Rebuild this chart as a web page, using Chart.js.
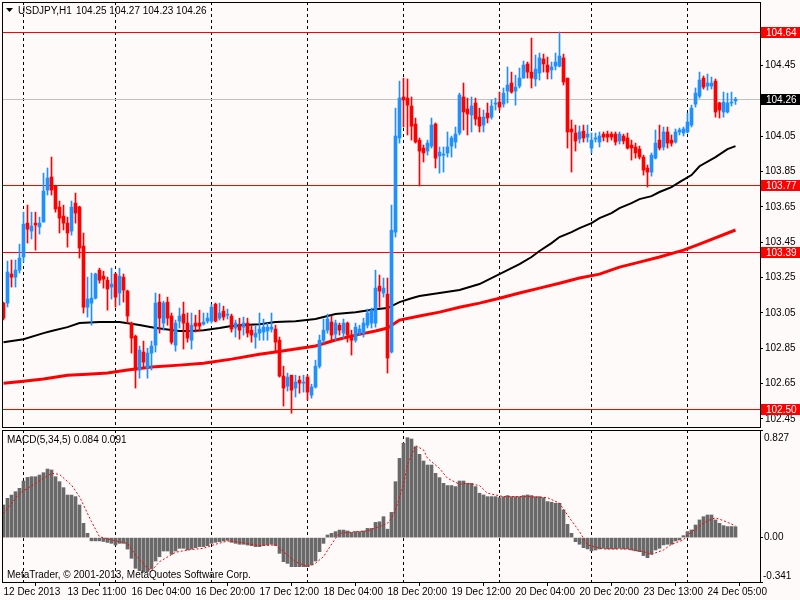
<!DOCTYPE html>
<html>
<head>
<meta charset="utf-8">
<script src="https://cdn.jsdelivr.net/npm/chart.js@4.4.0/dist/chart.umd.min.js"></script>
<style>
html,body{margin:0;padding:0;background:#fffafa;}
#wrap{position:relative;width:800px;height:600px;overflow:hidden;background:#fffafa;}
#c1{position:absolute;left:0;top:0;}
#c2{position:absolute;left:0;top:428px;}
</style>
</head>
<body>
<div id="wrap">
<canvas id="c1" width="800" height="428"></canvas>
<canvas id="c2" width="800" height="172"></canvas>
</div>
<script>
// ---------------- DATA ----------------
const symbolTitle = 'USDJPY,H1';
const titleOHLC = '104.25 104.27 104.23 104.26';
const macdTitle = 'MACD(5,34,5) 0.084 0.091';
const copyrightText = 'MetaTrader, \u00A9 2001-2013, MetaQuotes Software Corp.';

const opens = [103.105,103.105,103.27,103.252,103.292,103.366,103.558,103.513,103.558,103.536,
103.564,103.745,103.819,103.768,103.649,103.598,103.558,103.513,103.671,103.649,
103.428,103.082,103.105,103.133,103.292,103.258,103.235,103.196,103.27,103.162,
103.252,103.173,102.992,102.918,102.726,102.828,102.737,102.822,102.867,103.111,
102.992,103.111,103.032,102.867,103.003,103.043,102.992,102.895,102.992,102.992,
102.986,103.003,103.003,103.099,103.02,103.06,103.037,103.032,102.964,102.98,
102.969,102.992,102.952,102.913,102.935,102.941,102.947,102.958,102.958,102.895,
102.692,102.635,102.697,102.624,102.669,102.652,102.686,102.584,102.63,102.748,
102.895,102.952,102.998,102.93,102.98,102.935,102.992,102.924,102.895,102.935,
102.935,102.98,102.992,102.992,103.201,103.162,103.156,102.828,103.507,104.04,
104.272,104.266,104.221,104.119,104.028,103.983,103.966,103.994,104.119,103.938,
103.943,103.955,103.994,104.017,104.068,104.272,104.204,104.17,104.238,104.158,
104.113,104.181,104.158,104.232,104.243,104.232,104.306,104.351,104.306,104.334,
104.379,104.459,104.413,104.374,104.408,104.487,104.453,104.425,104.447,104.447,
104.493,104.379,104.091,104.068,104.034,104.079,104.045,103.983,104.034,104.017,
104.062,104.062,104.062,104.062,104.023,104.051,104.04,104.0,103.989,103.977,
103.932,103.87,103.847,103.926,104.028,103.989,104.074,104.028,104.017,104.074,
104.068,104.074,104.113,104.232,104.277,104.379,104.334,104.334,104.362,104.238,
104.187,104.187,104.238,104.25];

const highs = [103.11,103.343,103.349,103.349,103.439,103.62,103.66,103.62,103.62,103.592,
103.841,103.87,103.932,103.773,103.683,103.66,103.592,103.683,103.728,103.654,
103.502,103.252,103.275,103.275,103.303,103.286,103.252,103.303,103.275,103.303,
103.27,103.179,102.998,102.924,102.862,102.89,102.85,102.89,103.162,103.156,
103.116,103.139,103.049,103.009,103.077,103.111,103.049,103.049,103.037,103.065,
103.049,103.049,103.099,103.105,103.105,103.088,103.071,103.043,103.009,103.02,
103.026,103.02,102.98,102.975,103.049,103.015,102.992,103.049,102.98,102.913,
102.748,102.709,102.697,102.697,102.692,102.697,102.697,102.646,102.782,102.924,
103.015,103.043,103.032,103.009,102.992,103.015,102.998,102.952,102.992,102.98,
103.02,103.071,103.077,103.292,103.264,103.247,103.247,103.66,104.209,104.362,
104.379,104.374,104.272,104.153,104.04,104.0,104.028,104.153,104.125,103.989,
103.989,104.074,104.051,104.102,104.294,104.351,104.266,104.272,104.266,104.209,
104.198,104.238,104.255,104.266,104.3,104.323,104.442,104.413,104.396,104.436,
104.476,104.47,104.606,104.51,104.521,104.515,104.498,104.47,104.521,104.64,
104.515,104.379,104.142,104.113,104.108,104.113,104.113,104.068,104.068,104.074,
104.074,104.079,104.074,104.074,104.074,104.062,104.068,104.028,104.011,103.994,
103.943,103.887,103.955,104.085,104.113,104.102,104.102,104.057,104.091,104.096,
104.102,104.181,104.226,104.323,104.413,104.391,104.402,104.385,104.374,104.243,
104.3,104.294,104.3,104.27];

const lows = [103.01,103.083,103.196,103.196,103.275,103.337,103.445,103.468,103.405,103.496,
103.564,103.717,103.717,103.62,103.502,103.519,103.422,103.49,103.558,103.36,
103.049,103.026,102.98,103.128,103.218,103.19,103.065,103.128,103.082,103.094,
103.111,102.992,102.822,102.624,102.68,102.737,102.68,102.726,102.828,102.935,
102.952,102.98,102.873,102.833,102.964,102.845,102.884,102.845,102.941,102.947,
102.98,102.992,102.992,102.998,103.009,103.009,103.015,102.941,102.913,102.901,
102.924,102.913,102.884,102.85,102.895,102.895,102.895,102.941,102.828,102.686,
102.522,102.607,102.482,102.573,102.595,102.601,102.556,102.567,102.624,102.737,
102.879,102.935,102.895,102.895,102.924,102.907,102.884,102.811,102.884,102.924,
102.913,102.964,102.964,102.969,103.082,103.139,102.709,102.822,103.479,104.011,
104.102,104.057,104.028,104.011,103.768,103.904,103.943,103.983,103.87,103.841,
103.847,103.932,103.932,103.983,104.057,104.085,104.057,104.074,104.113,104.074,
104.074,104.125,104.147,104.198,104.198,104.215,104.238,104.294,104.226,104.323,
104.379,104.379,104.323,104.334,104.368,104.413,104.374,104.374,104.425,104.442,
104.34,103.983,103.847,103.966,104.011,104.017,104.017,103.955,104.017,103.989,
104.023,104.017,104.028,104.0,104.006,104.006,103.977,103.915,103.926,103.921,
103.83,103.762,103.824,103.921,103.972,103.972,103.983,103.994,104.011,104.057,
104.051,104.068,104.102,104.215,104.266,104.317,104.311,104.317,104.158,104.153,
104.158,104.181,104.221,104.23];

const closes = [103.02,103.281,103.252,103.292,103.36,103.552,103.524,103.541,103.547,103.558,
103.739,103.813,103.745,103.638,103.586,103.558,103.502,103.649,103.615,103.417,
103.082,103.128,103.133,103.27,103.235,103.241,103.185,103.213,103.139,103.258,
103.179,103.032,102.907,102.726,102.839,102.771,102.822,102.862,103.105,103.02,
103.105,103.02,102.884,102.992,103.032,102.992,102.907,102.98,102.975,102.975,
102.998,103.02,103.082,103.003,103.049,103.026,103.043,102.958,102.992,102.952,
102.992,102.935,102.924,102.935,102.958,102.969,102.969,102.969,102.884,102.692,
102.624,102.686,102.612,102.658,102.652,102.658,102.601,102.63,102.748,102.895,
102.952,103.015,102.924,102.992,102.952,102.992,102.924,102.895,102.969,102.958,
102.992,103.049,103.065,103.19,103.173,103.19,102.794,103.518,104.051,104.266,
104.255,104.226,104.107,104.017,103.966,103.955,104.011,104.113,103.926,103.96,
103.949,103.989,104.04,104.062,104.283,104.187,104.176,104.221,104.147,104.107,
104.158,104.153,104.221,104.238,104.215,104.294,104.34,104.3,104.328,104.379,
104.453,104.413,104.379,104.43,104.493,104.459,104.413,104.442,104.47,104.504,
104.357,104.074,104.074,104.023,104.074,104.04,104.062,104.028,104.04,104.051,
104.045,104.045,104.045,104.017,104.062,104.023,103.983,103.983,103.955,103.932,
103.858,103.847,103.943,104.011,103.983,104.074,104.011,104.011,104.074,104.085,
104.091,104.13,104.209,104.294,104.368,104.328,104.351,104.351,104.187,104.198,
104.243,104.238,104.243,104.26];

// moving averages: bars where the line was read, and the price read there
const blackMaBars = [0,5,10,12,16,19,24,29,34,37,40,44,47,50,54,57,60,64,68,73,78,83,88,93,96,99,102,104,109,114,119,124,129,132,134,137,139,142,144,147,149,152,154,157,159,162,164,167,169,172,174,178,181,183];
const blackMaValues = [102.884,102.901,102.935,102.947,102.969,102.992,102.998,102.998,102.981,102.969,102.958,102.947,102.947,102.952,102.964,102.975,102.981,102.986,102.998,103.003,103.015,103.043,103.054,103.071,103.077,103.111,103.133,103.145,103.162,103.179,103.213,103.269,103.326,103.366,103.4,103.445,103.479,103.507,103.53,103.558,103.586,103.615,103.643,103.671,103.694,103.711,103.734,103.762,103.79,103.83,103.88,103.932,103.977,103.994];
const redMaBars = [0,5,10,16,21,26,31,37,44,50,57,64,68,73,78,83,88,93,96,99,104,109,114,119,124,129,134,139,144,149,154,159,164,170,174,183];
const redMaValues = [102.652,102.663,102.675,102.697,102.703,102.709,102.726,102.743,102.754,102.765,102.788,102.816,102.828,102.845,102.862,102.896,102.924,102.947,102.964,103.009,103.032,103.054,103.082,103.105,103.133,103.162,103.19,103.218,103.247,103.269,103.309,103.337,103.366,103.405,103.439,103.519];

// MACD histogram (one value per bar) and signal line (read points)
const macdHist = [0.251,0.302,0.327,0.353,0.379,0.435,0.463,0.468,0.468,0.481,
0.499,0.527,0.52,0.468,0.43,0.384,0.327,0.327,0.315,0.251,
0.11,0.033,-0.025,-0.025,-0.025,-0.03,-0.037,-0.044,-0.057,-0.044,
-0.044,-0.088,-0.159,-0.236,-0.254,-0.262,-0.262,-0.241,-0.18,-0.147,
-0.103,-0.103,-0.128,-0.103,-0.082,-0.082,-0.095,-0.088,-0.077,-0.069,
-0.069,-0.062,-0.044,-0.036,-0.031,-0.026,-0.021,-0.036,-0.044,-0.051,
-0.051,-0.057,-0.062,-0.069,-0.069,-0.062,-0.057,-0.051,-0.062,-0.121,
-0.185,-0.198,-0.223,-0.223,-0.223,-0.223,-0.223,-0.21,-0.18,-0.108,
-0.044,0.02,0.033,0.046,0.058,0.058,0.051,0.04,0.046,0.046,
0.051,0.071,0.071,0.117,0.122,0.161,0.065,0.194,0.43,0.609,
0.725,0.768,0.758,0.699,0.64,0.589,0.558,0.558,0.494,0.461,
0.417,0.4,0.4,0.392,0.435,0.435,0.417,0.417,0.392,0.341,
0.328,0.315,0.315,0.315,0.307,0.315,0.323,0.315,0.315,0.315,
0.323,0.328,0.323,0.315,0.315,0.307,0.277,0.272,0.264,0.264,
0.213,0.102,0.033,-0.031,-0.051,-0.077,-0.087,-0.102,-0.095,-0.087,
-0.082,-0.087,-0.087,-0.087,-0.082,-0.087,-0.087,-0.095,-0.102,-0.108,
-0.138,-0.154,-0.128,-0.095,-0.082,-0.056,-0.051,-0.051,-0.026,-0.018,
0.015,0.046,0.059,0.097,0.136,0.161,0.174,0.174,0.136,0.11,
0.092,0.085,0.085,0.084];
const signalBars = [0,4,8,12,14,17,19,22,24,27,31,33,36,37,39,43,46,50,53,56,59,64,68,70,73,76,78,80,83,84,88,91,94,96,97,98,100,101,103,105,106,109,111,114,116,119,121,125,131,136,139,141,144,146,150,156,160,162,165,167,170,171,174,176,178,180,183];
const signalValues = [0.186,0.34,0.417,0.494,0.486,0.404,0.315,0.122,0.007,-0.018,-0.044,-0.133,-0.236,-0.255,-0.185,-0.113,-0.095,-0.082,-0.051,-0.026,-0.036,-0.062,-0.056,-0.108,-0.185,-0.223,-0.197,-0.146,-0.005,0.033,0.046,0.051,0.085,0.11,0.15,0.213,0.404,0.56,0.707,0.674,0.61,0.532,0.456,0.41,0.417,0.4,0.341,0.315,0.315,0.307,0.264,0.174,0.046,-0.056,-0.087,-0.087,-0.108,-0.128,-0.095,-0.051,-0.018,0.02,0.09,0.13,0.152,0.13,0.091];

// axes / annotations
const priceTicks = [102.45,102.65,102.85,103.05,103.25,103.45,103.65,103.85,104.05,104.25,104.45];
const levelLines = [104.64, 103.77, 103.39, 102.50];
const bidPrice = 104.26;
const macdTickValues = [0.827, 0, -0.341];
const macdTickLabels = ['0.827', '0.00', '-0.341'];
const timeTickBars = [0,16,32,48,64,80,96,112,128,144,160,176];
const timeTickLabels = ['12 Dec 2013','13 Dec 11:00','16 Dec 04:00','16 Dec 20:00','17 Dec 12:00','18 Dec 04:00','18 Dec 20:00','19 Dec 12:00','20 Dec 04:00','20 Dec 20:00','23 Dec 13:00','24 Dec 05:00'];
const daySeparatorBars = [5,28,52,76,100,124,147,171];

// visible ranges
const PRICE_MIN = 102.4037, PRICE_MAX = 104.8099;
const MACD_MIN = -0.341, MACD_MAX = 0.827;
const BAR_MIN = -0.375, BAR_MAX = 189.125;

// ---------------- STYLE ----------------
const UP = '#1e90ff', DOWN = '#ff0000';
const FONT_FAMILY = '"Liberation Sans", Arial, sans-serif';
const FONT = '10px ' + FONT_FAMILY;

const barIdx = opens.map((_, i) => i);
const candleColor = ctx => (closes[ctx.dataIndex] >= opens[ctx.dataIndex] ? UP : DOWN);

function noPad(s) { s.paddingTop = 0; s.paddingBottom = 0; s.paddingLeft = 0; s.paddingRight = 0; }

function drawSeparators(chart) {
  const {ctx, chartArea: a, scales: {x}} = chart;
  ctx.save();
  ctx.strokeStyle = '#000';
  ctx.lineWidth = 1;
  ctx.setLineDash([3, 3]);
  daySeparatorBars.forEach(b => {
    const px = Math.floor(x.getPixelForValue(b)) + 0.5;
    ctx.beginPath();
    ctx.moveTo(px, a.top);
    ctx.lineTo(px, a.bottom);
    ctx.stroke();
  });
  ctx.restore();
}

function drawFrame(chart) {
  const {ctx, chartArea: a} = chart;
  ctx.save();
  ctx.strokeStyle = '#000';
  ctx.lineWidth = 1;
  ctx.setLineDash([]);
  const l = Math.floor(a.left) + 0.5, r = Math.floor(a.right) + 0.5;
  const t = Math.floor(a.top) + 0.5, b = Math.floor(a.bottom) + 0.5;
  ctx.strokeRect(l, t, r - l, b - t);
  ctx.restore();
}

const mainPlugin = {
  id: 'mt4main',
  beforeDatasetsDraw(chart) {
    const {ctx, chartArea: a, scales: {y}} = chart;
    drawSeparators(chart);
    ctx.save();
    ctx.lineWidth = 1;
    ctx.strokeStyle = '#c0c0c0';
    let py = Math.floor(y.getPixelForValue(bidPrice)) + 0.5;
    ctx.beginPath(); ctx.moveTo(a.left, py); ctx.lineTo(a.right, py); ctx.stroke();
    ctx.strokeStyle = '#ff0000';
    levelLines.forEach(v => {
      const p = Math.floor(y.getPixelForValue(v)) + 0.5;
      ctx.beginPath(); ctx.moveTo(a.left, p); ctx.lineTo(a.right, p); ctx.stroke();
    });
    ctx.restore();
  },
  afterDraw(chart) {
    const {ctx, chartArea: a, scales: {y}} = chart;
    drawFrame(chart);
    ctx.save();
    ctx.font = FONT;
    ctx.textBaseline = 'middle';
    ctx.textAlign = 'left';
    const boxX = Math.floor(a.right) + 1;
    const boxW = chart.width - boxX;
    const drawBox = (v, bg) => {
      const p = Math.floor(y.getPixelForValue(v));
      ctx.fillStyle = bg;
      ctx.fillRect(boxX, p - 5, boxW, 11);
      ctx.fillStyle = '#ffffff';
      ctx.fillText(v.toFixed(2), boxX + 5, p + 1);
    };
    levelLines.forEach(v => drawBox(v, '#ff0000'));
    drawBox(bidPrice, '#000000');
    // header
    ctx.fillStyle = '#000';
    ctx.beginPath();
    ctx.moveTo(6, 8); ctx.lineTo(13, 8); ctx.lineTo(9.5, 12); ctx.closePath(); ctx.fill();
    ctx.fillText(symbolTitle, 18, 11);
    ctx.fillText(titleOHLC, 76, 11);
    ctx.restore();
  }
};

const macdPlugin = {
  id: 'mt4macd',
  beforeDatasetsDraw(chart) { drawSeparators(chart); },
  afterDraw(chart) {
    const {ctx, chartArea: a, scales: {y}} = chart;
    drawFrame(chart);
    ctx.save();
    ctx.font = FONT;
    ctx.textBaseline = 'middle';
    ctx.textAlign = 'left';
    ctx.fillStyle = '#000';
    ctx.fillText(macdTitle, 7, a.top + 10);
    ctx.fillText(copyrightText, 7, a.bottom - 7);
    macdTickValues.forEach((v, i) => {
      let p = y.getPixelForValue(v);
      p = Math.min(Math.max(p, a.top + 8), a.bottom - 6);
      ctx.fillText(macdTickLabels[i], Math.floor(a.right) + (v < 0 ? 3 : 4), p);
    });
    ctx.restore();
  }
};

const common = {
  responsive: false,
  animation: false,
  devicePixelRatio: 1,
  events: [],
  plugins: {legend: {display: false}, tooltip: {enabled: false}, title: {display: false}}
};

new Chart(document.getElementById('c1'), {
  type: 'bar',
  data: {
    datasets: [
      {type: 'bar', data: barIdx.map(i => ({x: i, y: [opens[i], closes[i]]})), backgroundColor: candleColor,
       barThickness: 3, grouped: false, minBarLength: 1, borderWidth: 0, order: 0},
      {type: 'bar', data: barIdx.map(i => ({x: i, y: [lows[i], highs[i]]})), backgroundColor: candleColor,
       barThickness: 1, grouped: false, borderWidth: 0, order: 1},
      {type: 'line', data: blackMaBars.map((b, j) => ({x: b, y: blackMaValues[j]})), borderColor: '#000000',
       borderWidth: 2, pointRadius: 0, tension: 0, fill: false, order: 2},
      {type: 'line', data: redMaBars.map((b, j) => ({x: b, y: redMaValues[j]})), borderColor: '#ff0000',
       borderWidth: 3, pointRadius: 0, tension: 0, fill: false, order: 3}
    ]
  },
  options: Object.assign({}, common, {
    layout: {padding: {left: 2, top: 2, right: 0, bottom: 1}},
    scales: {
      x: {type: 'linear', min: BAR_MIN, max: BAR_MAX, display: false, offset: false, bounds: 'data'},
      y: {type: 'linear', position: 'right', min: PRICE_MIN, max: PRICE_MAX, beginAtZero: false, bounds: 'data',
          afterFit(s) { s.width = 40; noPad(s); },
          afterBuildTicks(s) { s.ticks = priceTicks.map(v => ({value: v})); },
          ticks: {callback: v => Number(v).toFixed(2), color: '#000', font: {family: FONT_FAMILY, size: 10},
                  padding: 2, crossAlign: 'near', autoSkip: false},
          grid: {drawOnChartArea: false, drawTicks: true, tickLength: 3, color: '#000'},
          border: {display: false}}
    }
  }),
  plugins: [mainPlugin]
});

new Chart(document.getElementById('c2'), {
  type: 'bar',
  data: {
    datasets: [
      {type: 'bar', data: barIdx.map(i => ({x: i, y: macdHist[i]})), backgroundColor: '#696969',
       barThickness: 3, grouped: false, borderWidth: 0, order: 1},
      {type: 'line', data: signalBars.map((b, j) => ({x: b, y: signalValues[j]})), borderColor: '#ff0000',
       borderWidth: 1, borderDash: [2, 2], pointRadius: 0, tension: 0, fill: false, order: 0}
    ]
  },
  options: Object.assign({}, common, {
    layout: {padding: {left: 2, top: 2, right: 0, bottom: 0}},
    scales: {
      x: {type: 'linear', position: 'bottom', min: BAR_MIN, max: BAR_MAX, offset: false, bounds: 'data',
          afterFit(s) { s.height = 18; noPad(s); },
          afterBuildTicks(s) { s.ticks = timeTickBars.map(v => ({value: v})); },
          ticks: {callback: v => timeTickLabels[timeTickBars.indexOf(Math.round(v))], autoSkip: false,
                  maxRotation: 0, minRotation: 0, align: 'start', padding: 0, color: '#000',
                  font: {family: FONT_FAMILY, size: 10}},
          grid: {drawOnChartArea: false, drawTicks: true, tickLength: 4, color: '#000'},
          border: {display: false}},
      y: {type: 'linear', position: 'right', min: MACD_MIN, max: MACD_MAX, beginAtZero: false, bounds: 'data',
          afterFit(s) { s.width = 40; noPad(s); },
          afterBuildTicks(s) { s.ticks = macdTickValues.map(v => ({value: v})); },
          ticks: {display: false},
          grid: {drawOnChartArea: false, drawTicks: true, tickLength: 3, color: '#000'},
          border: {display: false}}
    }
  }),
  plugins: [macdPlugin]
});
</script>
</body>
</html>
